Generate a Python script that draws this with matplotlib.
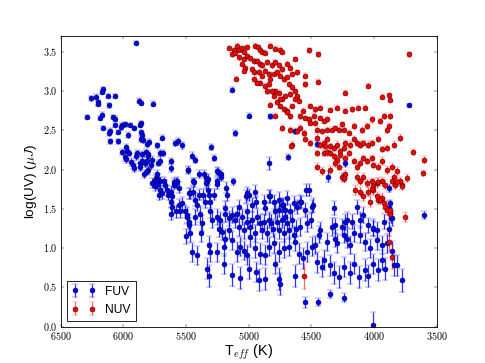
import matplotlib.pyplot as plt
from matplotlib.ticker import FuncFormatter, MultipleLocator

#%% FUV values (Teff in K, log UV flux, error)
fuv_teff = [5900, 6165, 6171, 6216, 6258, 6125, 6070, 6200, 6205, 6112,
            5878, 5860, 5764, 6290, 6184, 6168, 6083, 6064, 5860, 5865,
            6160, 6070, 6008, 5984, 5950, 5918, 6016, 6104, 6110, 6043,
            5862, 5849, 5964, 5857, 5844, 6107, 6043, 5693, 5791, 5812,
            5729, 5591, 5565, 5528, 5982, 6014, 5972, 5953, 5990, 5980,
            5889, 5897, 5852, 5815, 5799, 5801, 5709, 5685, 5937, 5921,
            5913, 5865, 5849, 5830, 5812, 5772, 5780, 5724, 5703, 5623,
            5623, 5485, 5868, 5799, 5812, 5836, 5729, 5740, 5724, 5709,
            5748, 5727, 5671, 5597, 5570, 5135, 4999, 4829, 4633, 5111,
            5302, 5454, 5426, 5278, 5480, 5392, 5352, 5339, 5328, 5246,
            5222, 5219, 4840, 4686, 5440, 5124, 5249, 3716, 4370,
            4231, 4239, 4454, 3883, 3870, 3867, 3599, 5769, 5748, 5729,
            5703, 5711, 5690, 5663, 5650, 5642, 5623, 5597, 5576, 5557,
            5610, 5623, 5610, 5623, 5583, 5557, 5530, 5544, 5504, 5490,
            5496, 5477, 5469, 5432, 5336, 5179, 5477, 5445, 5398, 5366,
            5323, 5312, 5344, 5304, 5424, 5410, 5172, 5020, 4999, 4946,
            4938, 4880, 4840, 4800, 4726, 4755, 4707, 4673, 4614, 4579,
            4539, 4489, 5326, 5251, 5251, 5278, 5012, 4826, 4760, 4733,
            4693, 4640, 4587, 4547, 4521, 4322, 4308, 4215, 4175, 4135,
            4083, 4003, 4043, 3976, 3923, 3856, 3883, 5490, 5472, 5424,
            5384, 5371, 5304, 5291, 5251, 5225, 5190, 5159, 5132, 5105,
            5092, 5052, 5012, 5012, 4972, 4932, 4906, 4880, 4840, 4818,
            4773, 4733, 4693, 4653, 4619, 4587, 4534, 4499, 5464, 5450,
            5410, 5376, 5318, 5304, 5251, 5198, 5185, 5132, 5092, 5065,
            5039, 5012, 4986, 4946, 4906, 4866, 4840, 4800, 4760, 4720,
            4680, 4627, 4601, 4569, 4534, 4494, 5331, 5312, 5132, 5065,
            4940, 4914, 4866, 4760, 4747, 4627, 4553, 5198, 4999, 4786,
            4494, 4229, 4255, 4162, 4109, 4008, 3883, 4427, 4441, 4468,
            4375, 4335, 4308, 4295, 4242, 4215, 4189, 4109, 4069, 4029,
            3976, 3936, 3896, 3856, 3843, 3812, 3777, 4454, 4414, 4401,
            4348, 4322, 4282, 4242, 4189, 4162, 4122, 4069, 4043, 4003,
            3963, 3936, 3910, 4348, 4449, 4242, 4003,
            5238, 5211, 5158, 5079, 5039, 4986, 4946, 4893, 4853, 4808,
            4760, 4720, 4680, 4641, 5185, 5079, 4972, 4866, 4786, 4707]
fuv_logUV = [3.62, 3.03, 2.99, 2.93, 2.91, 2.94, 2.94, 2.86, 2.84, 2.82,
             2.88, 2.85, 2.84, 2.67, 2.66, 2.70, 2.67, 2.65, 2.59, 2.57,
             2.53, 2.57, 2.57, 2.58, 2.57, 2.53, 2.54, 2.49, 2.47, 2.48,
             2.48, 2.44, 2.44, 2.39, 2.38, 2.36, 2.36, 2.41, 2.35, 2.33,
             2.31, 2.34, 2.36, 2.31, 2.29, 2.23, 2.24, 2.21, 2.16, 2.14,
             2.21, 2.17, 2.20, 2.22, 2.20, 2.17, 2.21, 2.21, 2.10, 2.06,
             2.02, 2.09, 2.11, 2.09, 2.11, 2.12, 2.06, 2.09, 2.11, 2.11,
             2.02, 2.00, 2.03, 2.00, 1.98, 1.94, 1.94, 1.90, 1.88, 1.85,
             1.87, 1.85, 1.85, 1.84, 1.85, 3.02, 2.69, 2.68, 2.49, 2.47,
             2.29, 2.18, 2.12, 2.15, 2.00, 1.94, 1.95, 1.90, 1.85, 1.97,
             1.94, 1.91, 2.08, 2.16, 1.85, 1.85, 1.85, 2.82, 1.91,
             2.09, 1.89, 2.33, 1.77, 1.57, 1.38, 1.42, 1.83, 1.79, 1.81,
             1.74, 1.68, 1.70, 1.81, 1.74, 1.68, 1.72, 1.81, 1.83, 1.77,
             1.66, 1.59, 1.53, 1.44, 1.47, 1.55, 1.57, 1.47, 1.47, 1.40,
             1.15, 1.29, 1.70, 1.84, 1.83, 1.77, 1.70, 1.72, 1.68, 1.68,
             1.74, 1.68, 1.59, 1.59, 1.62, 1.55, 1.68, 1.66, 1.68, 1.72,
             1.59, 1.59, 1.66, 1.59, 1.55, 1.49, 1.49, 1.47, 1.53, 1.59,
             1.74, 1.55, 1.88, 1.98, 1.82, 1.68, 1.70, 1.66, 1.62, 1.55,
             1.64, 1.57, 1.59, 1.49, 1.74, 1.51, 1.29, 1.36, 1.34, 1.53,
             1.42, 1.25, 1.29, 1.23, 1.34, 1.38, 1.25, 1.42, 1.34, 1.40,
             1.44, 1.32, 1.47, 1.36, 1.40, 1.36, 1.44, 1.38, 1.42, 1.36,
             1.44, 1.40, 1.47, 1.34, 1.36, 1.40, 1.32, 1.34, 1.36, 1.32,
             1.34, 1.36, 1.32, 1.36, 1.25, 1.27, 1.32, 1.36, 1.19, 0.95,
             0.91, 1.19, 1.04, 0.95, 0.95, 1.02, 1.12, 1.10, 0.95, 1.02,
             0.97, 0.91, 1.14, 1.00, 0.93, 0.91, 1.02, 1.06, 0.95, 1.00,
             1.02, 1.08, 0.93, 0.87, 0.95, 1.02, 0.74, 0.65, 0.66, 0.62,
             0.70, 0.59, 0.61, 0.61, 0.55, 0.65, 0.31, 0.80, 0.74, 0.80,
             1.53, 1.33, 1.27, 1.19, 1.36, 1.26, 1.51, 1.23, 1.17, 1.04,
             1.08, 1.27, 1.12, 1.06, 1.17, 1.12, 1.04, 1.17, 1.08, 1.00,
             1.10, 1.04, 1.06, 0.97, 0.78, 0.78, 0.59, 0.82, 0.76, 0.85,
             0.78, 0.68, 0.63, 0.76, 0.68, 0.80, 0.63, 0.72, 0.65, 0.80,
             0.72, 0.85, 0.74, 0.42, 0.32, 0.37, 0.02,
             1.25, 1.21, 1.23, 1.27, 1.23, 1.27, 1.19, 1.23, 1.19, 1.25,
             1.23, 1.19, 1.23, 1.17, 1.51, 1.53, 1.55, 1.51, 1.47, 1.40]
fuv_err = [.02, .03, .03, .03, .03, .03, .03, .03, .03, .03,
           .03, .03, .03, .03, .03, .03, .03, .03, .03, .03,
           .03, .03, .03, .03, .03, .03, .03, .04, .04, .03,
           .03, .03, .04, .04, .04, .03, .03, .03, .04, .04,
           .03, .04, .04, .04, .04, .04, .04, .04, .05, .05,
           .04, .04, .04, .04, .04, .04, .04, .04, .05, .05,
           .05, .05, .05, .05, .05, .05, .05, .04, .05, .04,
           .05, .04, .05, .05, .05, .05, .05, .06, .06, .06,
           .06, .06, .06, .06, .06, .03, .03, .03, .03, .04,
           .04, .04, .04, .04, .05, .05, .05, .05, .06, .05,
           .05, .05, .08, .04, .05, .05, .06, .02, .07,
           .05, .05, .04, .05, .05, .06, .05, .06, .06, .06,
           .07, .07, .07, .06, .07, .07, .07, .06, .06, .07,
           .08, .08, .08, .08, .08, .08, .08, .08, .08, .09,
           .10, .09, .07, .06, .06, .07, .07, .07, .07, .07,
           .07, .08, .08, .08, .08, .08, .08, .08, .08, .08,
           .08, .09, .08, .09, .09, .09, .09, .09, .09, .08,
           .08, .09, .06, .05, .06, .07, .08, .08, .09, .09,
           .09, .09, .09, .09, .08, .09, .10, .10, .10, .09,
           .10, .10, .10, .10, .10, .10, .10, .10, .10, .10,
           .10, .10, .09, .10, .10, .10, .10, .10, .10, .10,
           .10, .10, .09, .10, .10, .10, .11, .10, .10, .11,
           .10, .10, .11, .10, .11, .11, .11, .10, .11, .12,
           .12, .11, .12, .12, .12, .12, .12, .12, .13, .12,
           .12, .13, .12, .12, .13, .13, .12, .12, .13, .12,
           .12, .12, .13, .13, .13, .12, .13, .14, .14, .14,
           .13, .14, .14, .14, .14, .14, .07, .13, .13, .13,
           .08, .10, .10, .11, .10, .11, .09, .11, .11, .12,
           .12, .11, .11, .12, .11, .12, .12, .11, .12, .12,
           .12, .12, .12, .12, .13, .13, .15, .13, .13, .13,
           .13, .14, .14, .13, .14, .13, .14, .14, .14, .13,
           .14, .13, .14, .05, .05, .06, .17,
           .11, .11, .11, .11, .11, .11, .11, .11, .11, .11,
           .11, .11, .11, .11, .09, .09, .09, .09, .10, .10]

#%% NUV values
nuv_teff = [5153, 5119, 5092, 5079, 5052, 5034, 5012, 4946, 4927, 4911,
            4893, 4872, 4832, 4787, 4752, 4733, 4521, 4449, 3716, 5132,
            5105, 5079, 5039, 5012, 4986, 4959, 4933, 4906, 4893, 4853,
            4813, 4787, 4760, 4733, 4694, 4667, 4627, 5052, 5026, 5039,
            4973, 4959, 4919, 4893, 4866, 4840, 4826, 4800, 4773, 4747,
            4720, 4694, 4654, 4614, 4547, 4680, 4654, 4627, 4614, 4667,
            4707, 4733, 4760, 4787, 4813, 4853, 4866, 4840, 4906, 4933,
            4959, 5097, 4800, 4773, 4747, 4720, 4694, 4654, 4627, 4601,
            4747, 4826, 4787, 4694, 4667, 4447, 4547, 4569, 4508, 4468,
            4428, 4348, 4295, 4229, 4176, 4128, 4069, 4229, 4043, 3934,
            3883, 3870, 4587, 4547, 4521, 4481, 4508, 4468, 4428, 4401,
            4375, 4454, 4415, 4375, 4335, 4308, 4282, 4242, 4255, 4202,
            4162, 4096, 4056, 4016, 3950, 3923, 3883, 3897, 3870, 4733,
            4667, 4614, 4587, 4561, 4654, 4662, 4547, 4508, 4454, 4428,
            4401, 4388, 4375, 4348, 4322, 4295, 4268, 4242, 4229, 4189,
            4162, 4136, 4109, 4083, 4043, 4016, 3963, 3936, 3897, 3843,
            3790, 3684, 3599, 4454, 4401, 4375, 4348, 4322, 4295, 4268,
            4229, 4202, 4162, 4136, 4109, 4083, 4056, 4016, 4003, 3963,
            3936, 3897, 3857, 3843, 3817, 3777, 3737, 4454, 4415, 4348,
            4308, 4282, 4255, 4229, 4242, 4136, 4109, 4083, 4056, 4016,
            4003, 3976, 3936, 3910, 3857, 3830, 3790, 4149, 4109, 4083,
            4043, 4029, 4003, 3976, 3963, 3936, 3923, 3910, 3897, 3870,
            3777, 3750, 3610, 4016, 3963, 3812, 3950, 3870, 4561, 3883,
            3856]
nuv_logUV = [3.55, 3.52, 3.58, 3.53, 3.55, 3.50, 3.56, 3.58, 3.56, 3.53,
             3.50, 3.49, 3.58, 3.54, 3.53, 3.50, 3.52, 3.47, 3.47, 3.47,
             3.49, 3.43, 3.41, 3.45, 3.42, 3.39, 3.38, 3.35, 3.33, 3.37,
             3.33, 3.37, 3.33, 3.28, 3.35, 3.30, 3.41, 3.35, 3.30, 3.26,
             3.28, 3.24, 3.24, 3.20, 3.26, 3.22, 3.16, 3.22, 3.24, 3.20,
             3.15, 3.18, 3.22, 3.24, 3.20, 3.09, 3.05, 3.00, 2.94, 2.96,
             2.94, 2.90, 2.98, 3.00, 3.00, 3.00, 3.07, 3.09, 3.11, 3.11,
             3.15, 3.16, 2.94, 2.86, 2.81, 2.77, 2.75, 2.81, 2.90, 2.88,
             2.90, 2.83, 2.69, 2.73, 2.68, 3.12, 3.09, 2.75, 2.81, 2.77,
             2.79, 2.76, 2.79, 2.75, 2.77, 2.79, 2.79, 2.98, 3.07, 2.93,
             2.95, 2.89, 2.68, 2.66, 2.64, 2.69, 2.60, 2.60, 2.66, 2.62,
             2.64, 2.51, 2.49, 2.51, 2.51, 2.53, 2.51, 2.51, 2.58, 2.47,
             2.56, 2.51, 2.56, 2.64, 2.62, 2.68, 2.56, 2.51, 2.68, 2.53,
             2.51, 2.49, 2.53, 2.47, 2.32, 2.30, 2.39, 2.34, 2.41, 2.32,
             2.34, 2.30, 2.39, 2.30, 2.28, 2.32, 2.24, 2.28, 2.34, 2.32,
             2.39, 2.34, 2.32, 2.34, 2.32, 2.34, 2.39, 2.26, 2.28, 2.32,
             2.41, 2.23, 2.13, 2.21, 2.21, 2.22, 2.21, 2.17, 2.13, 2.19,
             2.15, 2.21, 2.11, 2.04, 2.09, 2.15, 2.11, 2.15, 2.06, 2.04,
             2.11, 2.00, 2.04, 1.91, 1.98, 1.81, 1.89, 2.04, 1.98, 2.00,
             2.09, 2.04, 1.91, 1.94, 1.89, 1.91, 1.85, 1.91, 1.83, 1.85,
             1.79, 1.83, 1.85, 1.81, 1.85, 1.81, 1.85, 1.74, 1.72, 1.66,
             1.72, 1.59, 1.74, 1.66, 1.62, 1.64, 1.57, 1.53, 1.49, 1.44,
             1.79, 1.40, 1.96, 1.75, 1.84, 1.84, 1.62, 1.49, 0.64, 1.08,
             0.89]
nuv_err = [.03, .03, .03, .03, .03, .03, .03, .03, .03, .03,
           .03, .03, .03, .03, .03, .03, .03, .03, .03, .03,
           .03, .03, .03, .03, .03, .03, .03, .03, .03, .03,
           .03, .03, .03, .03, .03, .03, .03, .03, .03, .03,
           .03, .03, .03, .03, .03, .03, .03, .03, .03, .03,
           .03, .03, .03, .03, .03, .03, .03, .03, .03, .03,
           .03, .03, .03, .03, .03, .03, .03, .03, .03, .03,
           .03, .03, .03, .03, .03, .03, .03, .03, .03, .03,
           .03, .03, .03, .03, .03, .03, .03, .03, .03, .03,
           .03, .03, .03, .03, .03, .03, .03, .03, .03, .03,
           .03, .03, .03, .03, .03, .03, .03, .03, .03, .03,
           .03, .03, .03, .03, .03, .03, .03, .03, .03, .03,
           .04, .04, .04, .04, .04, .04, .04, .04, .04, .04,
           .04, .04, .04, .04, .04, .04, .04, .04, .04, .04,
           .04, .04, .04, .04, .04, .04, .04, .04, .04, .04,
           .04, .04, .04, .04, .04, .04, .04, .04, .04, .04,
           .04, .04, .04, .04, .04, .04, .04, .04, .04, .04,
           .04, .04, .04, .04, .04, .04, .04, .04, .04, .04,
           .05, .05, .05, .05, .05, .05, .05, .05, .05, .05,
           .05, .05, .05, .05, .05, .05, .05, .05, .05, .05,
           .06, .06, .06, .06, .06, .06, .06, .06, .06, .06,
           .06, .07, .06, .06, .06, .06, .07, .07, .07, .07,
           .05, .06, .04, .05, .05, .05, .06, .06, .16, .12,
           .15]

#%% Plot
plt.style.use('classic')
plt.rcParams['font.family'] = 'Liberation Sans'
plt.rcParams['mathtext.fontset'] = 'cm'

fig = plt.figure(figsize=(8.0001, 5.988), dpi=60.625, facecolor='w')
ax = fig.add_subplot(111)
ax.errorbar(fuv_teff, fuv_logUV, yerr=fuv_err, fmt='o', color='b', mec='k', mew=0.5,
            ms=6, ecolor=(0, 0, 1, 0.8), elinewidth=1.5, capsize=3.5, capthick=1.5, label='FUV')
ax.errorbar(nuv_teff, nuv_logUV, yerr=nuv_err, fmt='o', color='r', mec='k', mew=0.5,
            ms=6, ecolor=(1, 0, 0, 0.6), elinewidth=1.5, capsize=3.5, capthick=1.5, label='NUV')

ax.set_xlim(6500, 3500)
ax.set_ylim(0, 3.7)
ax.xaxis.set_major_locator(MultipleLocator(500))
ax.yaxis.set_major_locator(MultipleLocator(0.5))
ax.xaxis.set_major_formatter(FuncFormatter(lambda v, p: r'$%d$' % v))
ax.yaxis.set_major_formatter(FuncFormatter(lambda v, p: r'$%.1f$' % v))
ax.set_xlabel(r'T$_{eff}$ (K)', fontsize=17, labelpad=1)
ax.set_ylabel(r'log(UV) ($\mu J$)', fontsize=16)
ax.legend(loc='lower left', numpoints=2)

fig.savefig('out.png', dpi=60.625, facecolor='w')
